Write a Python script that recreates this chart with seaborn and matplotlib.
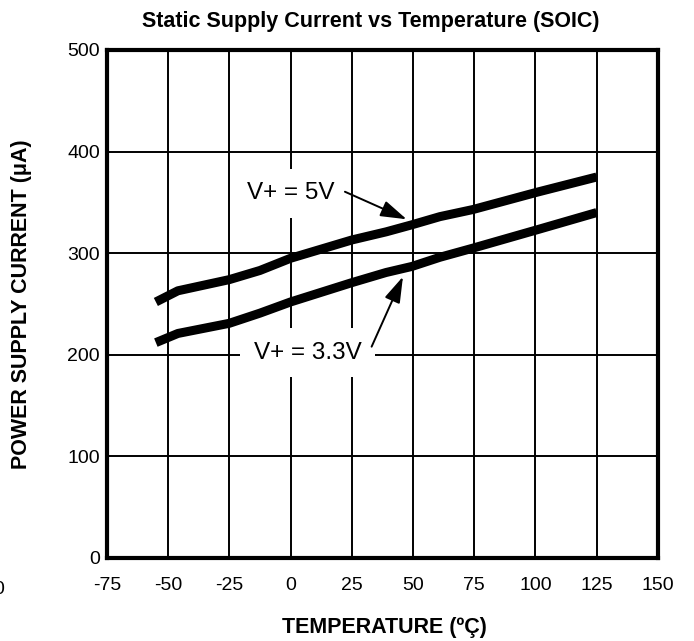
import numpy as np
import pandas as pd
import matplotlib
matplotlib.use("Agg")
import matplotlib.pyplot as plt
import seaborn as sns

# data
temps = [-55, -46, -25, -12.5, 0, 25, 39, 49.6, 61, 74.5, 100.6, 125]
i_5v = [252, 263, 274, 283, 295, 313, 321, 328, 336, 343, 360, 375]
i_33v = [212, 221, 231, 241, 252, 271, 281, 287, 296, 305, 323, 340]

x_ticks = [-75, -50, -25, 0, 25, 50, 75, 100, 125, 150]
y_ticks = [0, 100, 200, 300, 400, 500]

sns.set_theme(style="white")
plt.rcParams['font.family'] = ['Liberation Sans', 'DejaVu Sans']
plt.rcParams['text.color'] = 'black'
plt.rcParams['axes.labelcolor'] = 'black'
plt.rcParams['axes.unicode_minus'] = False

df = pd.DataFrame({
    "temp": temps * 2,
    "current": i_5v + i_33v,
    "supply": ["5V"] * len(temps) + ["3.3V"] * len(temps),
})

fig = plt.figure(figsize=(6.94, 6.41), dpi=100)
ax = fig.add_axes([0.154, 0.1295, 0.794, 0.7925])

sns.lineplot(data=df, x="temp", y="current", units="supply", estimator=None,
             color="black", linewidth=6.5, ax=ax, legend=False, zorder=3,
             solid_capstyle="butt", solid_joinstyle="round")

ax.set_xlim(-75, 150)
ax.set_ylim(0, 500)
ax.set_xticks(x_ticks)
ax.set_yticks(y_ticks)
ax.grid(True, color="black", linewidth=1.4)
ax.tick_params(axis="both", length=0, labelsize=14, colors="black")
ax.tick_params(axis="x", pad=14)
ax.tick_params(axis="y", pad=5)
for s in ax.spines.values():
    s.set_linewidth(3)
    s.set_color("black")
    s.set_zorder(4)

fig.text(0.534, 0.967, "Static Supply Current vs Temperature (SOIC)",
         fontsize=15.5, fontweight="bold", ha="center", va="center")
ax.set_xlabel("TEMPERATURE (ºÇ)", fontsize=15.5, fontweight="bold")
ax.set_ylabel("POWER SUPPLY CURRENT (μA)", fontsize=15.5, fontweight="bold")
ax.xaxis.set_label_coords(0.503, -0.116)
ax.yaxis.set_label_coords(-0.136, 0.5)

box = dict(boxstyle="square,pad=0.55", fc="white", ec="none")
ax.text(0, 359, "V+ = 5V", fontsize=17.5, ha="center", va="center",
        bbox=box, zorder=5)
ax.text(7, 202, "V+ = 3.3V", fontsize=17.5, ha="center", va="center",
        bbox=box, zorder=5)

arrow = dict(arrowstyle="-|>,head_length=1.6,head_width=0.5", mutation_scale=10,
             color="black", lw=1.4, shrinkA=0, shrinkB=0)
ax.annotate("", xy=(47.4, 333.4), xytext=(22.2, 360.5), arrowprops=arrow,
            zorder=6)
ax.annotate("", xy=(45.9, 276.9), xytext=(33.1, 208), arrowprops=arrow,
            zorder=6)

# stray clipped label at the far left edge
fig.text(0.006, 0.08, "0", fontsize=14, ha="right", va="center")

fig.savefig("out.png", dpi=100)
